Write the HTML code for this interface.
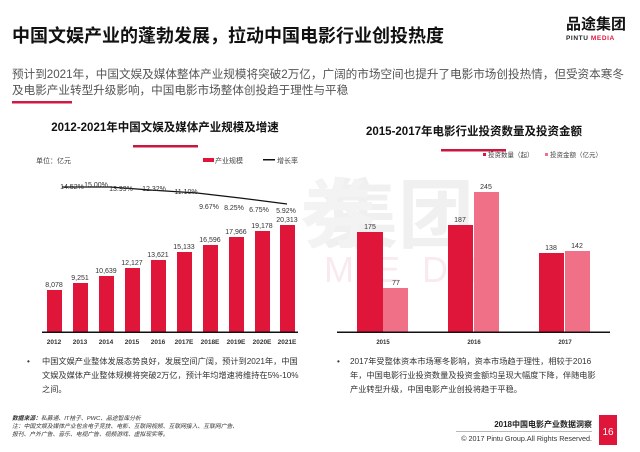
<!DOCTYPE html>
<html><head><meta charset="utf-8"><style>
body{margin:0;background:#fff;}
svg text{font-family:"Liberation Sans","Noto Sans CJK SC",sans-serif;}
</style></head><body>
<svg width="640" height="447" viewBox="0 0 640 447" xmlns="http://www.w3.org/2000/svg">
<rect width="640" height="447" fill="#fff"/>
<!-- watermark -->
<text x="322" y="242" font-size="76" font-weight="bold" fill="#f0f0f0" font-family="Noto Sans CJK SC,sans-serif">集团</text>
<text x="300" y="242" font-size="76" font-weight="bold" fill="#f3f3f3">券</text>
<text x="324" y="282" font-size="36" fill="#f9eaed" letter-spacing="22">MEDI</text>
<!-- header -->
<text x="12" y="42" font-size="18" font-weight="bold" fill="#111">中国文娱产业的蓬勃发展，拉动中国电影行业创投热度</text>
<text x="566" y="29" font-size="15" font-weight="bold" fill="#111">品途集团</text>
<text x="566" y="40" font-size="6.5" font-weight="bold" fill="#222" letter-spacing="0.6">PINTU <tspan fill="#e0153a">MEDIA</tspan></text>
<text x="12" y="78" font-size="11.6" fill="#555">预计到2021年，中国文娱及媒体整体产业规模将突破2万亿，广阔的市场空间也提升了电影市场创投热情，但受资本寒冬</text>
<text x="12" y="94" font-size="11.6" fill="#555">及电影产业转型升级影响，中国电影市场整体创投趋于理性与平稳</text>
<rect x="12" y="101" width="60" height="2.5" fill="#d01a45"/>
<!-- left chart -->
<text x="165" y="131" font-size="11.5" font-weight="bold" fill="#111" text-anchor="middle">2012-2021年中国文娱及媒体产业规模及增速</text>
<rect x="133" y="145" width="65" height="2.5" fill="#c8183f"/>
<text x="36" y="163" font-size="7" fill="#444">单位：亿元</text>
<rect x="203" y="158" width="11" height="4" fill="#e0153a"/>
<text x="215" y="163" font-size="7" fill="#444">产业规模</text>
<rect x="263" y="159" width="12" height="1.5" fill="#111"/>
<text x="277" y="163" font-size="7" fill="#444">增长率</text>
<polyline points="62,187 110,187 150,190 197,193 240,198 287,204" fill="none" stroke="#111" stroke-width="1.2"/>
<g font-size="7" fill="#333" text-anchor="middle">
<text x="72" y="189">14.52%</text><text x="96" y="187">15.00%</text><text x="121" y="191">13.99%</text>
<text x="154" y="191">12.32%</text><text x="186" y="194">11.10%</text><text x="209" y="209">9.67%</text>
<text x="234" y="210">8.25%</text><text x="259" y="212">6.75%</text><text x="286" y="213">5.92%</text>
</g>
<g fill="#e0153a">
<rect x="47" y="290" width="15" height="42"/><rect x="73" y="283" width="15" height="49"/>
<rect x="99" y="276" width="15" height="56"/><rect x="125" y="268" width="15" height="64"/>
<rect x="151" y="260" width="15" height="72"/><rect x="177" y="252" width="15" height="80"/>
<rect x="203" y="245" width="15" height="87"/><rect x="229" y="237" width="15" height="95"/>
<rect x="255" y="231" width="15" height="101"/><rect x="280" y="225" width="15" height="107"/>
</g>
<g font-size="7" fill="#333" text-anchor="middle">
<text x="54" y="287">8,078</text><text x="80" y="280">9,251</text><text x="106" y="273">10,639</text>
<text x="132" y="265">12,127</text><text x="158" y="257">13,621</text><text x="184" y="249">15,133</text>
<text x="210" y="242">16,596</text><text x="236" y="234">17,966</text><text x="262" y="228">19,178</text>
<text x="287" y="222">20,313</text>
</g>
<rect x="42" y="331.5" width="256" height="1.5" fill="#111"/>
<g font-size="6.5" font-weight="bold" fill="#333" text-anchor="middle">
<text x="54" y="344">2012</text><text x="80" y="344">2013</text><text x="106" y="344">2014</text>
<text x="132" y="344">2015</text><text x="158" y="344">2016</text><text x="184" y="344">2017E</text>
<text x="210" y="344">2018E</text><text x="236" y="344">2019E</text><text x="262" y="344">2020E</text>
<text x="287" y="344">2021E</text>
</g>
<!-- right chart -->
<text x="474" y="135" font-size="11.5" font-weight="bold" fill="#111" text-anchor="middle">2015-2017年电影行业投资数量及投资金额</text>
<rect x="441" y="149" width="65" height="2.5" fill="#c8183f"/>
<rect x="483" y="153" width="3" height="3" fill="#e0153a"/>
<text x="488" y="157" font-size="6.5" fill="#444">投资数量（起）</text>
<rect x="545" y="153" width="3" height="3" fill="#f07088"/>
<text x="550" y="157" font-size="6.5" fill="#444">投资金额（亿元）</text>
<g fill="#e0153a">
<rect x="357" y="232" width="26" height="100"/><rect x="448" y="225" width="25" height="107"/><rect x="539" y="253" width="25" height="79"/>
</g>
<g fill="#f07088">
<rect x="383" y="288" width="25" height="44"/><rect x="474" y="192" width="25" height="140"/><rect x="565" y="251" width="25" height="81"/>
</g>
<g font-size="7" fill="#333" text-anchor="middle">
<text x="370" y="229">175</text><text x="396" y="285">77</text><text x="460" y="222">187</text>
<text x="486" y="189">245</text><text x="551" y="250">138</text><text x="577" y="248">142</text>
</g>
<rect x="337" y="331.5" width="273" height="1.5" fill="#111"/>
<g font-size="6" font-weight="bold" fill="#333" text-anchor="middle">
<text x="383" y="344">2015</text><text x="474" y="344">2016</text><text x="565" y="344">2017</text>
</g>
<!-- bullets -->
<g font-size="8.2" fill="#333">
<text x="27" y="364">•</text>
<text x="42" y="364">中国文娱产业整体发展态势良好，发展空间广阔，预计到2021年，中国</text>
<text x="42" y="378">文娱及媒体产业整体规模将突破2万亿，预计年均增速将维持在5%-10%</text>
<text x="42" y="392">之间。</text>
<text x="337" y="364">•</text>
<text x="350" y="364">2017年受整体资本市场寒冬影响，资本市场趋于理性，相较于2016</text>
<text x="350" y="378">年，中国电影行业投资数量及投资金额均呈现大幅度下降，伴随电影</text>
<text x="350" y="392">产业转型升级，中国电影产业创投将趋于平稳。</text>
</g>
<!-- footer -->
<g font-size="5.8" fill="#333" font-style="italic">
<text x="12" y="420"><tspan font-weight="bold">数据来源：</tspan>私募通、IT桔子、PWC、品途智库分析</text>
<text x="12" y="428">注：中国文娱及媒体产业包含电子竞技、电影、互联网视频、互联网接入、互联网广告、</text>
<text x="12" y="436">报刊、户外广告、音乐、电视广告、视频游戏、虚拟现实等。</text>
</g>
<text x="592" y="427" font-size="8" font-weight="bold" fill="#222" text-anchor="end">2018中国电影产业数据洞察</text>
<rect x="456" y="431" width="136" height="0.7" fill="#999"/>
<text x="592" y="441" font-size="7.2" fill="#333" text-anchor="end">© 2017 Pintu Group.All Rights Reserved.</text>
<rect x="599" y="415" width="18" height="30" fill="#e0153a"/>
<text x="608" y="435" font-size="10" fill="#fff" text-anchor="middle">16</text>
</svg>
</body></html>
